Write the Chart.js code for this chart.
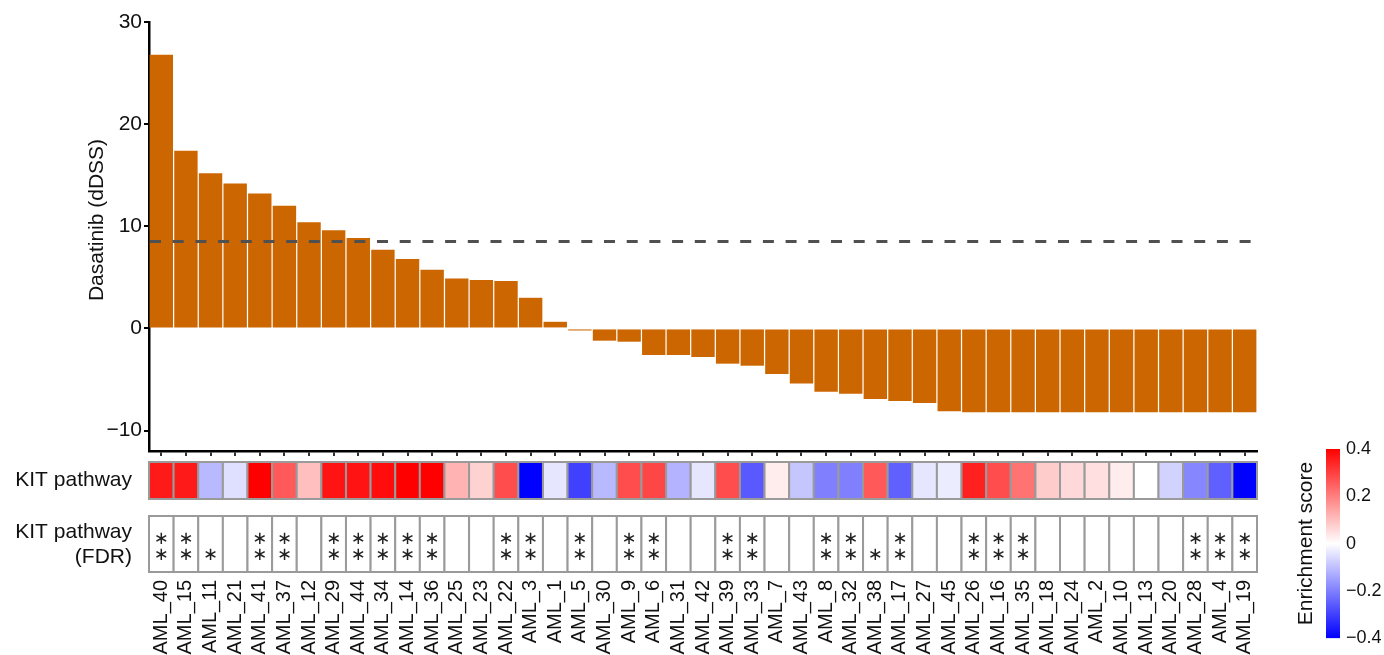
<!DOCTYPE html>
<html>
<head>
<meta charset="utf-8">
<script src="https://cdn.jsdelivr.net/npm/chart.js@4.4.1/dist/chart.umd.min.js"></script>
<style>
    body { margin: 0; background: #fff; }
    #contenedor { position: relative; width: 1384px; height: 655px; }
    #grafica { position: absolute; left: 0; top: 0; }
    #barraColor { position: absolute; left: 1280px; top: 430px; }
</style>
</head>
<body>
<div id="contenedor">
    <canvas id="grafica" width="1384" height="655"></canvas>
    <canvas id="barraColor" width="104" height="225"></canvas>
</div>
<script>
//-------------------//
//--|datos_grafica|--//
//-------------------//
const pacientes = [
    "AML_40", "AML_15", "AML_11", "AML_21", "AML_41", "AML_37", "AML_12", "AML_29", "AML_44",
    "AML_34", "AML_14", "AML_36", "AML_25", "AML_23", "AML_22", "AML_3", "AML_1", "AML_5",
    "AML_30", "AML_9", "AML_6", "AML_31", "AML_42", "AML_39", "AML_33", "AML_7", "AML_43",
    "AML_8", "AML_32", "AML_38", "AML_17", "AML_27", "AML_45", "AML_26", "AML_16", "AML_35",
    "AML_18", "AML_24", "AML_2", "AML_10", "AML_13", "AML_20", "AML_28", "AML_4", "AML_19"
];
const dasatinibDSS = [
    26.8, 17.4, 15.2, 14.2, 13.2, 12.0, 10.4, 9.6, 8.85,
    7.7, 6.8, 5.75, 4.9, 4.75, 4.65, 3.0, 0.65, -0.2,
    -1.2, -1.3, -2.6, -2.6, -2.8, -3.45, -3.65, -4.45, -5.4,
    -6.2, -6.4, -6.9, -7.1, -7.3, -8.1, -8.2, -8.2, -8.2,
    -8.2, -8.2, -8.2, -8.2, -8.2, -8.2, -8.2, -8.2, -8.2
];
const kitScore = [
    0.36, 0.36, -0.11, -0.05, 0.40, 0.26, 0.10, 0.37, 0.37,
    0.38, 0.40, 0.40, 0.12, 0.07, 0.28, -0.40, -0.04, -0.30,
    -0.11, 0.28, 0.29, -0.12, -0.04, 0.28, -0.26, 0.03, -0.09,
    -0.20, -0.20, 0.26, -0.25, -0.04, -0.03, 0.35, 0.28, 0.22,
    0.08, 0.06, 0.05, 0.03, 0.0, -0.07, -0.19, -0.25, -0.40
];
const kitFDR = [
    "**", "**", "*", "", "**", "**", "", "**", "**",
    "**", "**", "**", "", "", "**", "**", "", "**",
    "", "**", "**", "", "", "**", "**", "", "",
    "**", "**", "*", "**", "", "", "**", "**", "**",
    "", "", "", "", "", "", "**", "**", "**"
];
const umbral = 8.5;
const ticksDSS = [-10, 0, 10, 20, 30];
const ticksEscala = [-0.4, -0.2, 0, 0.2, 0.4];

//---------------------//
//--|ajustes_basicos|--//
//---------------------//
const fuente = "'Liberation Sans', Arial, sans-serif";
Chart.defaults.font.family = fuente;
Chart.defaults.font.size = 21;
Chart.defaults.color = "#111";

const conMenos = v => (v < 0 ? "\u2212" + Math.abs(v) : String(v));

function colorEnriquecimiento(valor) {
    const t = Math.max(-1, Math.min(1, valor / 0.4));
    if (t >= 0) {
        const c = Math.round(255 * (1 - t));
        return `rgb(255, ${c}, ${c})`;
    }
    const c = Math.round(255 * (1 + t));
    return `rgb(${c}, ${c}, 255)`;
}

//------------------------------//
//--|linea_umbral_discontinua|--//
//------------------------------//
const lineaUmbral = {
    id: "lineaUmbral",
    afterDatasetsDraw(chart) {
        const { ctx, chartArea, scales } = chart;
        const y = scales.y.getPixelForValue(umbral);
        ctx.save();
        ctx.strokeStyle = "#505050";
        ctx.lineWidth = 3;
        ctx.setLineDash([11, 11.7]);
        ctx.beginPath();
        ctx.moveTo(chartArea.left + 1, y);
        ctx.lineTo(chartArea.right - 3, y);
        ctx.stroke();
        ctx.restore();
        // titulo del eje y
        ctx.save();
        ctx.translate(97, 220);
        ctx.rotate(-Math.PI / 2);
        ctx.fillStyle = "#111";
        ctx.font = "21px " + fuente;
        ctx.textAlign = "center";
        ctx.textBaseline = "middle";
        ctx.fillText("Dasatinib (dDSS)", 0, 0);
        ctx.restore();
    }
};

//-------------------------//
//--|filas_kit_pathway|--//
//-------------------------//
const filasKit = {
    id: "filasKit",
    afterDraw(chart) {
        const { ctx, scales } = chart;
        const x = scales.x;
        const paso = x.getPixelForValue(1) - x.getPixelForValue(0);
        const fila1 = { top: 462, bottom: 499 };
        const fila2 = { top: 516, bottom: 572 };
        ctx.save();
        ctx.strokeStyle = "#9a9a9a";
        ctx.lineWidth = 2;
        pacientes.forEach((p, i) => {
            const x0 = x.getPixelForValue(i) - paso / 2;
            ctx.fillStyle = colorEnriquecimiento(kitScore[i]);
            ctx.fillRect(x0, fila1.top, paso, fila1.bottom - fila1.top);
            ctx.strokeRect(x0, fila1.top, paso, fila1.bottom - fila1.top);
            ctx.fillStyle = "#fff";
            ctx.fillRect(x0, fila2.top, paso, fila2.bottom - fila2.top);
            ctx.strokeRect(x0, fila2.top, paso, fila2.bottom - fila2.top);
        });
        // asteriscos
        ctx.fillStyle = "#222";
        ctx.font = "18px 'DejaVu Sans'";
        ctx.textAlign = "center";
        ctx.textBaseline = "middle";
        pacientes.forEach((p, i) => {
            const cx = x.getPixelForValue(i);
            if (kitFDR[i] === "**") {
                ctx.fillText("\u2217", cx, 539);
                ctx.fillText("\u2217", cx, 555);
            } else if (kitFDR[i] === "*") {
                ctx.fillText("\u2217", cx, 555);
            }
        });
        // etiquetas de fila
        ctx.fillStyle = "#111";
        ctx.font = "21px " + fuente;
        ctx.textAlign = "right";
        const xt = 132;
        ctx.fillText("KIT pathway", xt, (fila1.top + fila1.bottom) / 2);
        ctx.fillText("KIT pathway", xt, 532);
        ctx.fillText("(FDR)", xt, 557);
        ctx.restore();
    }
};

//-----------------------//
//--|grafica_de_barras|--//
//-----------------------//
new Chart(document.getElementById("grafica"), {
    type: "bar",
    data: {
        labels: pacientes,
        datasets: [{
            data: dasatinibDSS,
            backgroundColor: "#cc6600",
            barPercentage: 0.95,
            categoryPercentage: 1.0
        }]
    },
    options: {
        responsive: false,
        animation: false,
        devicePixelRatio: 1,
        layout: { padding: { left: 0, right: 127, top: 22, bottom: 0 } },
        plugins: { legend: { display: false }, tooltip: { enabled: false } },
        scales: {
            x: {
                afterFit: s => {
                    s.height = 204;
                    s.paddingLeft = 0;
                    s.paddingRight = 0;
                },
                border: { color: "#000", width: 2.5 },
                grid: { drawOnChartArea: false, offset: false, tickLength: 5, color: "#333", lineWidth: 2 },
                ticks: { autoSkip: false, minRotation: 90, maxRotation: 90, padding: 124, font: { size: 20 } }
            },
            y: {
                min: -12,
                max: 30,
                afterFit: s => { s.width = 149; },
                afterBuildTicks: s => { s.ticks = ticksDSS.map(v => ({ value: v })); },
                border: { color: "#000", width: 2.5 },
                grid: { drawOnChartArea: false, tickLength: 5, color: "#000", lineWidth: 2 },
                ticks: { padding: 2, callback: v => conMenos(v) }
            }
        }
    },
    plugins: [lineaUmbral, filasKit]
});

//----------------------------//
//--|barra_de_color_escala|--//
//----------------------------//
new Chart(document.getElementById("barraColor"), {
    type: "bar",
    data: {
        labels: [""],
        datasets: [{
            data: [[ticksEscala[0], ticksEscala[ticksEscala.length - 1]]],
            backgroundColor: ctx => {
                const area = ctx.chart.chartArea;
                if (!area) return "#fff";
                const g = ctx.chart.ctx.createLinearGradient(0, area.bottom, 0, area.top);
                g.addColorStop(0, "#0000ff");
                g.addColorStop(0.5, "#ffffff");
                g.addColorStop(1, "#ff0000");
                return g;
            },
            barPercentage: 1,
            categoryPercentage: 1,
            borderWidth: 0
        }]
    },
    options: {
        responsive: false,
        animation: false,
        devicePixelRatio: 1,
        layout: { padding: { left: 10, right: 0, top: 19, bottom: 12 } },
        plugins: { legend: { display: false }, tooltip: { enabled: false } },
        scales: {
            x: { display: false },
            y: {
                position: "left",
                min: -0.4,
                max: 0.4,
                afterFit: s => { s.width = 36; },
                ticks: { display: false },
                grid: { display: false },
                border: { display: false },
                title: { display: true, text: "Enrichment score" }
            },
            y2: {
                position: "right",
                min: -0.4,
                max: 0.4,
                afterFit: s => { s.width = 44; },
                afterBuildTicks: s => { s.ticks = ticksEscala.map(v => ({ value: v })); },
                grid: { display: false, drawTicks: false },
                border: { display: false },
                ticks: { padding: 6, font: { size: 18 }, callback: v => conMenos(Math.round(v * 10) / 10) }
            }
        }
    }
});
</script>
</body>
</html>
